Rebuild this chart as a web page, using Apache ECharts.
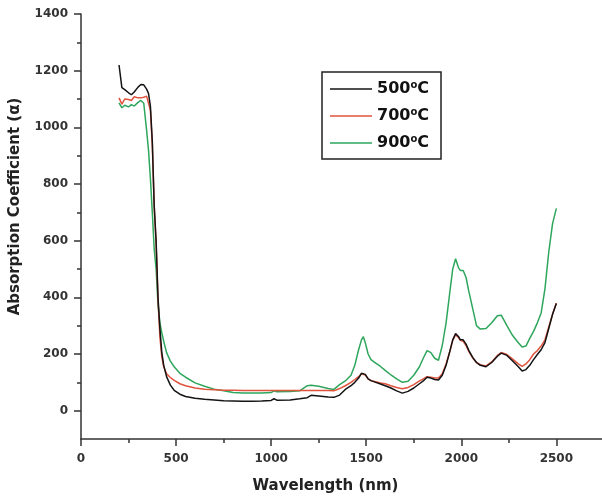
<!DOCTYPE html>
<html><head><meta charset="utf-8">
<script src="https://cdn.jsdelivr.net/npm/echarts@6/dist/echarts.min.js"></script>
<style>html,body{margin:0;padding:0;background:#fff}#c{width:602px;height:499px}</style>
</head><body><div id="c"></div>
<script>
const wavelength = [200,215,230,250,265,280,300,315,330,345,355,365,375,385,395,405,415,425,435,450,470,490,520,550,600,650,700,750,800,850,900,950,1000,1015,1030,1100,1150,1190,1210,1250,1300,1330,1360,1390,1420,1440,1460,1475,1485,1495,1510,1525,1550,1575,1600,1630,1660,1690,1720,1750,1780,1800,1820,1840,1860,1880,1900,1920,1940,1955,1970,1985,1995,2010,2025,2040,2060,2080,2100,2130,2160,2190,2210,2240,2270,2300,2320,2340,2360,2380,2400,2420,2440,2460,2480,2500];
const a500 = [1220,1140,1133,1122,1115,1125,1142,1151,1150,1135,1120,1075,950,723,600,400,290,205,160,120,90,72,58,50,44,40,38,35,34,33,33,34,36,42,37,38,42,46,54,52,48,47,55,75,88,100,115,132,138,128,112,106,100,94,88,80,70,62,68,80,95,105,118,115,110,108,125,160,210,250,272,262,250,250,235,212,188,170,160,155,170,192,203,195,175,155,140,145,160,180,198,215,240,290,340,378];
const a700 = [1104,1082,1100,1098,1095,1108,1104,1104,1106,1110,1105,1060,940,720,590,390,260,190,155,130,117,107,95,88,80,76,74,72,72,71,71,71,71,71,71,71,71,71,71,71,71,70,78,88,100,110,120,130,133,126,112,106,102,98,95,88,82,77,82,92,105,112,120,118,115,115,130,165,210,248,268,258,248,245,230,208,186,170,162,158,172,195,205,198,182,165,156,165,180,200,212,228,250,295,340,380];
const a900 = [1086,1069,1078,1072,1080,1075,1088,1095,1085,990,920,820,700,570,500,375,310,275,245,205,175,155,132,118,98,86,76,70,64,62,62,62,64,70,67,68,70,88,90,86,78,75,92,105,125,160,215,250,261,240,200,180,168,156,142,126,112,100,104,125,155,185,212,205,185,178,230,310,420,500,536,505,495,495,470,420,360,300,288,290,310,335,337,300,265,240,225,228,255,280,310,345,430,560,660,714];
const seriesNames = ['500°C','700°C','900°C'];
const seriesColors = ['#141414','#e0533d','#2ea65c'];
const xMajorTicks = [0,500,1000,1500,2000,2500];
const xMinorTicks = [250,750,1250,1750,2250];
const yMajorTicks = [0,200,400,600,800,1000,1200,1400];
const yMinorTicks = [100,300,500,700,900,1100,1300];

const FONT = 'DejaVu Sans';
const axisCol = '#333';
const values = [a500, a700, a900];

function pairs(arr){ return wavelength.map((w,i)=>[w, arr[i]]); }
const plain = v => String(v);

const chart = echarts.init(document.getElementById('c'), null, {renderer:'canvas'});
const xBase = {type:'value', min:0, max:2740, position:'bottom', splitLine:{show:false}};
const yBase = {type:'value', min:-100, max:1400, position:'left', splitLine:{show:false}};
chart.setOption({
  animation:false,
  backgroundColor:'#fff',
  grid:{left:80, right:0, top:14, bottom:57.5, containLabel:false},
  legend:{
    orient:'vertical', left:322, top:72,
    itemWidth:42, itemHeight:12, itemGap:10,
    padding:[8,12,8,8],
    borderColor:'#222', borderWidth:1.5,
    backgroundColor:'#fff',
    icon:'path://M0,0 L42,0 L42,1.4 L0,1.4 Z',
    data: seriesNames.map((n,i)=>({name:n, itemStyle:{color:seriesColors[i]}})),
    formatter: n => '{n|' + n.replace('°C','') + '}{s|o}{n|C}',
    textStyle:{
      rich:{
        n:{fontFamily:FONT, fontSize:16, fontWeight:'bold', color:'#111', lineHeight:18},
        s:{fontFamily:FONT, fontSize:10, fontWeight:'bold', color:'#111', lineHeight:18, verticalAlign:'top', padding:[0,0,7,0]}
      }
    }
  },
  xAxis:[
    Object.assign({}, xBase, {
      name:'Wavelength (nm)', nameLocation:'middle', nameGap:40,
      nameTextStyle:{fontFamily:FONT, fontSize:15, fontWeight:'bold', color:'#222', padding:[0,32,0,0]},
      axisLine:{show:true, onZero:false, lineStyle:{color:axisCol, width:1.5}},
      axisTick:{show:true, customValues:xMajorTicks, length:7, lineStyle:{color:axisCol, width:1.5}},
      axisLabel:{customValues:xMajorTicks, formatter:plain, margin:14, fontFamily:FONT, fontSize:12, fontWeight:'bold', color:'#333'}
    }),
    Object.assign({}, xBase, {
      axisLine:{show:false, onZero:false},
      axisTick:{show:true, customValues:xMinorTicks, length:4, lineStyle:{color:axisCol, width:1.5}},
      axisLabel:{show:false}
    })
  ],
  yAxis:[
    Object.assign({}, yBase, {
      name:'Absorption Coefficient (\u03b1)', nameLocation:'middle', nameGap:58,
      nameTextStyle:{fontFamily:FONT, fontSize:15, fontWeight:'bold', color:'#222', padding:[0,0,0,40]},
      axisLine:{show:true, onZero:false, lineStyle:{color:axisCol, width:1.5}},
      axisTick:{show:true, customValues:yMajorTicks, length:7, lineStyle:{color:axisCol, width:1.5}},
      axisLabel:{customValues:yMajorTicks, formatter:plain, margin:13, fontFamily:FONT, fontSize:12, fontWeight:'bold', color:'#333'}
    }),
    Object.assign({}, yBase, {
      axisLine:{show:false, onZero:false},
      axisTick:{show:true, customValues:yMinorTicks, length:4, lineStyle:{color:axisCol, width:1.5}},
      axisLabel:{show:false}
    })
  ],
  series: seriesNames.map((n,i)=>({
    name:n, type:'line', xAxisIndex:0, yAxisIndex:0,
    data: pairs(values[i]),
    showSymbol:false, symbol:'none', smooth:false,
    z: 4 - i,
    lineStyle:{color:seriesColors[i], width:1.5},
    itemStyle:{color:seriesColors[i]}
  }))
});
</script></body></html>
